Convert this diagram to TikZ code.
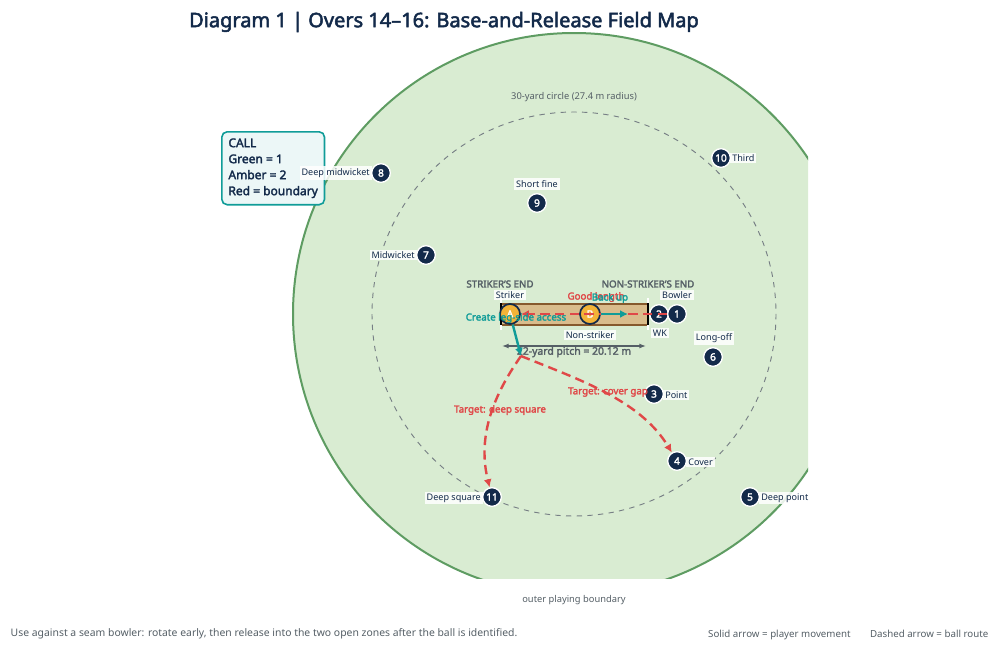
\documentclass[tikz,border=0pt]{standalone}
\usepackage{fontspec}
\setmainfont{Noto Sans}[AutoFakeBold=2.5]
\usetikzlibrary{arrows.meta}
\definecolor{navy}{HTML}{132A4A}
\definecolor{field}{HTML}{D9ECD2}
\definecolor{rim}{HTML}{5E9C62}
\definecolor{teal}{HTML}{109C98}
\definecolor{redc}{HTML}{E04848}
\definecolor{orng}{HTML}{F2B338}
\definecolor{pitch}{HTML}{D9BC8C}
\definecolor{greyt}{HTML}{555F66}
\tikzset{
 x=0.75pt,y=-0.75pt,
 fld/.style={circle,fill=navy,draw=white,line width=1pt,minimum size=14pt,inner sep=0pt,text=white,font=\fontsize{7.5}{8}\selectfont\bfseries},
 bat/.style={circle,fill=orng,draw=navy,line width=1.3pt,minimum size=15pt,inner sep=0pt,text=white,font=\fontsize{7.5}{8}\selectfont\bfseries},
 lbl/.style={fill=white,fill opacity=0.85,text opacity=1,inner sep=1.5pt,font=\fontsize{6.8}{8}\selectfont,text=navy},
 endl/.style={font=\fontsize{7.3}{8}\selectfont\bfseries,text=greyt},
 ball/.style={redc,line width=1.8pt,dash pattern=on 7pt off 4pt,-{Latex[length=6pt,width=6pt]}},
 move/.style={teal,line width=1.8pt,-{Latex[length=6pt,width=6pt]}},
 rl/.style={font=\fontsize{7.3}{8}\selectfont\bfseries,text=redc},
 tl/.style={font=\fontsize{7.3}{8}\selectfont\bfseries,text=teal},
}
\begin{document}
\begin{tikzpicture}
\useasboundingbox (0,0) rectangle (1000,650);
\begin{scope}
\clip (0,0) rectangle (808,578);
\fill[field,draw=rim,line width=1.5pt] (574,314) circle (281);
\end{scope}
\draw[greyt!80,dash pattern=on 4pt off 4pt,line width=0.7pt] (574,314) circle (202);
\node[font=\fontsize{15}{18}\selectfont\bfseries,text=navy] at (444,22) {Diagram 1 | Overs 14–16: Base-and-Release Field Map};
\node[font=\fontsize{7}{8}\selectfont,text=greyt] at (574,97) {30-yard circle (27.4 m radius)};
\node[font=\fontsize{7}{8}\selectfont,text=greyt] at (574,600) {outer playing boundary};
\node[font=\fontsize{7.8}{8}\selectfont,text=greyt,anchor=west] at (6,634) {Use against a seam bowler: rotate early, then release into the two open zones after the ball is identified.};
\node[font=\fontsize{7.3}{8}\selectfont,text=greyt,anchor=east] at (993,635) {Solid arrow = player movement\qquad Dashed arrow = ball route};
% call box
\node[draw=teal,line width=1.2pt,fill=teal!8,rounded corners=4pt,align=left,anchor=north west,inner sep=5pt,text=navy,font=\fontsize{9}{12}\selectfont\bfseries] (call) at (221,131) {CALL\\Green = 1\\Amber = 2\\Red = boundary};
% pitch
\draw[fill=pitch,draw=brown!70!black,line width=0.8pt] (501,304) rectangle (648,325);
\draw[white,line width=2pt] (501,298) -- (501,330) (648,298) -- (648,330);
\draw[black,line width=1.2pt] (501,303) -- (501,325) (648,303) -- (648,325);
\node[endl] at (500,284) {STRIKER'S END};
\node[endl] at (648,284) {NON-STRIKER'S END};
\node[bat] (A) at (510,314) {A};
\node[bat] (B) at (590,314) {B};
\node[fld] (f2) at (659,314) {2};
\node[fld] (f1) at (677,314) {1};
\node[lbl] at (510,295) {Striker};
\node[lbl] at (590,335) {Non-striker};
\node[lbl] at (677,295) {Bowler};
\node[lbl] at (660,333) {WK};
% fielders
\node[fld] (f10) at (721,158) {10}; \node[lbl,anchor=west] at (730,158) {Third};
\node[fld] (f9) at (537,203) {9}; \node[lbl] at (537,184) {Short fine};
\node[fld] (f8) at (381,173) {8}; \node[lbl,anchor=east] at (372,173) {Deep midwicket};
\node[fld] (f7) at (426,255) {7}; \node[lbl,anchor=east] at (417,255) {Midwicket};
\node[fld] (f6) at (713,357) {6}; \node[lbl] at (714,338) {Long-off};
\node[fld] (f3) at (654,394) {3}; \node[lbl,anchor=west] at (663,395) {Point};
\node[fld] (f4) at (677,461) {4}; \node[lbl,anchor=west] at (686,462) {Cover};
\node[fld] (f5) at (750,497) {5}; \node[lbl,anchor=west] at (759,498) {Deep point};
\node[fld] (f11) at (492,497) {11}; \node[lbl,anchor=east] at (483,498) {Deep square};
% pitch length
\coordinate (pl) at (502,346); \coordinate (pr) at (646,346);
\draw[greyt,line width=1pt,{Latex[length=5pt]}-{Latex[length=5pt]}] (pl) -- (pr);
\node[font=\fontsize{7.8}{8}\selectfont\bfseries,text=greyt] at (574,352) {22-yard pitch = 20.12 m};
% moves
\coordinate (rel) at (521,356);
\draw[ball] (f1) -- (A);
\draw[move] (A) -- (rel);
\draw[move] (B) -- (628,314);
\node[rl] at (596,297) {Good length};
\node[tl] at (610,298) {Back up};
\node[tl] at (516,318) {Create leg-side access};
\draw[ball] (rel) .. controls (490,400) and (478,440) .. (f11);
\draw[ball] (rel) .. controls (580,380) and (640,400) .. (f4);
\node[rl] at (500,410) {Target: deep square};
\node[rl] at (608,392) {Target: cover gap};
\end{tikzpicture}
\end{document}
